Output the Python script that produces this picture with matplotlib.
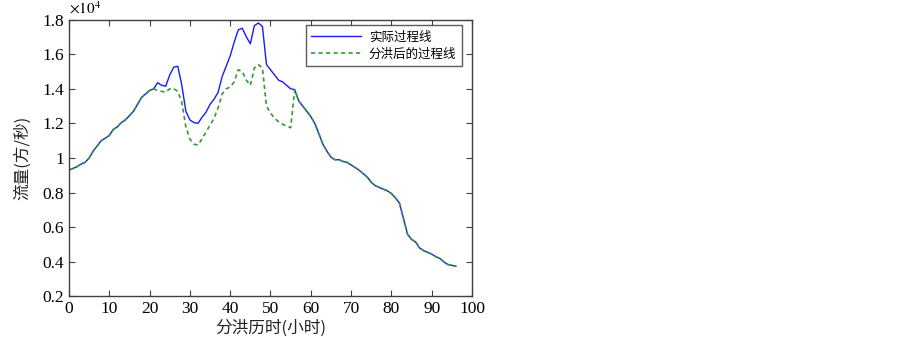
import numpy as np
import matplotlib
matplotlib.use("Agg")
import matplotlib.pyplot as plt
from matplotlib.ticker import FormatStrFormatter

plt.rcParams['mathtext.fontset'] = 'stix'

# hours since diversion started
hours = list(range(0, 97))

# actual discharge (x 10^4)
flow_actual = [
    0.93, 0.94, 0.95, 0.965, 0.975, 1.00, 1.04, 1.07, 1.10, 1.115,
    1.13, 1.165, 1.18, 1.205, 1.22, 1.245, 1.27, 1.31, 1.35, 1.37,
    1.39, 1.40, 1.435, 1.42, 1.415, 1.48, 1.525, 1.53, 1.42, 1.27,
    1.22, 1.205, 1.20, 1.235, 1.265, 1.31, 1.34, 1.38, 1.47, 1.53,
    1.59, 1.67, 1.74, 1.75, 1.70, 1.66, 1.765, 1.78, 1.76, 1.54,
    1.51, 1.48, 1.45, 1.44, 1.42, 1.40, 1.395, 1.33, 1.30, 1.27,
    1.24, 1.20, 1.14, 1.08, 1.04, 1.005, 0.99, 0.99, 0.98, 0.975,
    0.96, 0.945, 0.93, 0.91, 0.89, 0.86, 0.84, 0.83, 0.82, 0.81,
    0.795, 0.77, 0.74, 0.65, 0.56, 0.53, 0.515, 0.48, 0.465, 0.455,
    0.445, 0.43, 0.42, 0.40, 0.385, 0.38, 0.375,
]

# discharge after flood diversion (x 10^4)
flow_diverted = [
    0.93, 0.94, 0.95, 0.965, 0.975, 1.00, 1.04, 1.07, 1.10, 1.115,
    1.13, 1.165, 1.18, 1.205, 1.22, 1.245, 1.27, 1.31, 1.35, 1.37,
    1.39, 1.40, 1.39, 1.385, 1.38, 1.40, 1.40, 1.385, 1.32, 1.18,
    1.11, 1.08, 1.075, 1.11, 1.15, 1.19, 1.23, 1.29, 1.37, 1.40,
    1.41, 1.44, 1.51, 1.50, 1.45, 1.42, 1.52, 1.54, 1.52, 1.30,
    1.26, 1.23, 1.21, 1.195, 1.185, 1.175, 1.395, 1.33, 1.30, 1.27,
    1.24, 1.20, 1.14, 1.08, 1.04, 1.005, 0.99, 0.99, 0.98, 0.975,
    0.96, 0.945, 0.93, 0.91, 0.89, 0.86, 0.84, 0.83, 0.82, 0.81,
    0.795, 0.77, 0.74, 0.65, 0.56, 0.53, 0.515, 0.48, 0.465, 0.455,
    0.445, 0.43, 0.42, 0.40, 0.385, 0.38, 0.375,
]

x_ticks = list(range(0, 101, 10))
y_ticks = [0.2, 0.4, 0.6, 0.8, 1.0, 1.2, 1.4, 1.6, 1.8]

cjk = ['Noto Sans CJK SC', 'DejaVu Sans']
serif = 'Liberation Serif'

fig = plt.figure(figsize=(9.03, 3.37), dpi=100)
ax = fig.add_axes([0.0764, 0.1202, 0.4463, 0.8218])

ax.plot(hours, flow_actual, color='#1a1aff', lw=1.0, label='实际过程线')
ax.plot(hours, flow_diverted, color='#339933', lw=1.2, ls=(0, (2.5, 2)),
        label='分洪后的过程线')

ax.set_xlim(0, 100)
ax.set_ylim(0.2, 1.8)
ax.set_xticks(x_ticks)
ax.set_yticks(y_ticks)
ax.yaxis.set_major_formatter(FormatStrFormatter('%g'))
ax.tick_params(direction='in', top=True, right=True, length=4,
               width=0.8, color='#404040', labelsize=12.5)
for lab in ax.get_xticklabels() + ax.get_yticklabels():
    lab.set_fontfamily(serif)
for sp in ax.spines.values():
    sp.set_color('#404040')
    sp.set_linewidth(1.0)

ax.set_xlabel('分洪历时(小时)', family=cjk, fontsize=12, color='#222222', labelpad=2)
ax.set_ylabel('流量(方/秒)', family=cjk, fontsize=12, color='#222222', labelpad=8)
ax.text(0.0, 1.012, r'$\times10^{4}$', transform=ax.transAxes,
        fontsize=11, ha='left', va='bottom')

leg = ax.legend(loc='upper right', bbox_to_anchor=(0.975, 0.98),
                prop={'family': cjk, 'size': 9}, frameon=True,
                fancybox=False, handlelength=4.0, borderpad=0.45,
                labelspacing=0.3, handletextpad=0.6, borderaxespad=0)
leg.get_frame().set_edgecolor('#333333')
leg.get_frame().set_linewidth(1.0)

fig.savefig('out.png', dpi=100)
